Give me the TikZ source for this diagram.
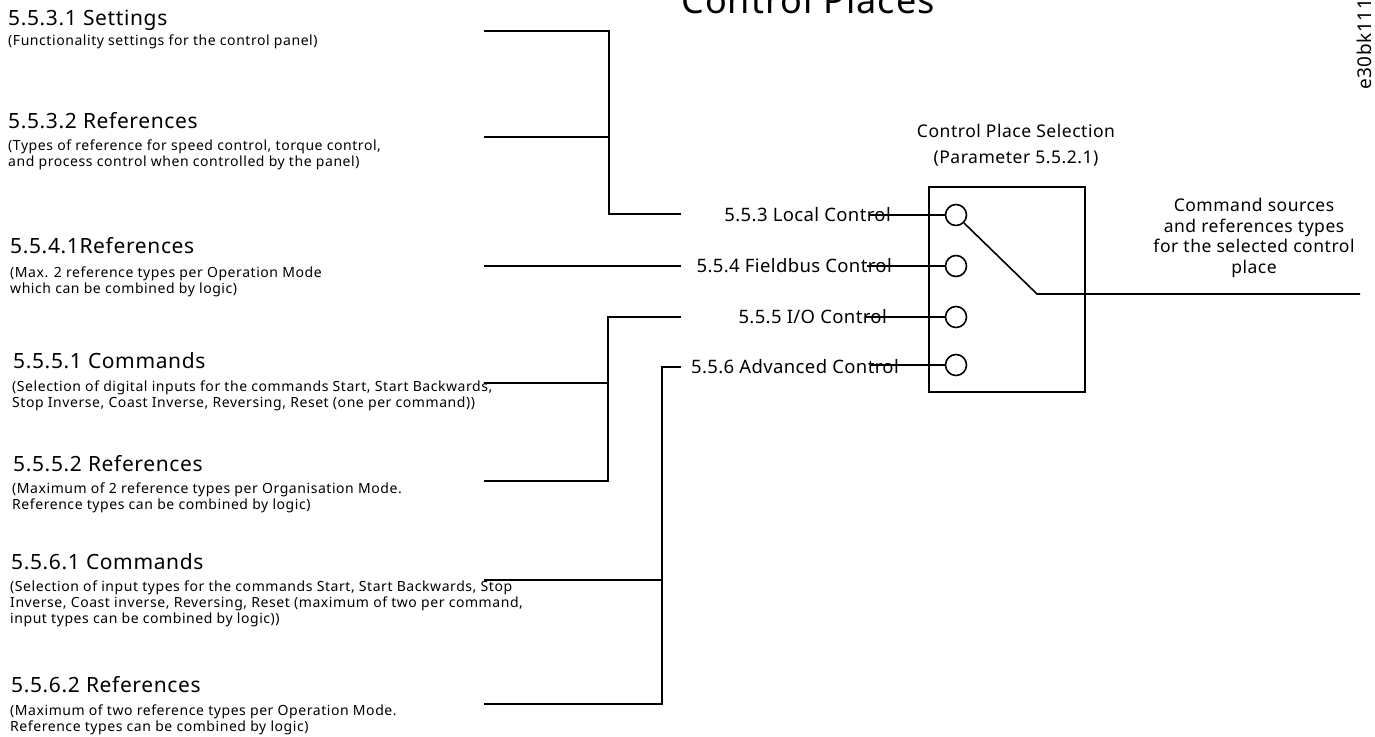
\documentclass[tikz,border=0pt]{standalone}
\usepackage{fontspec}
\setmainfont{Noto Sans}
\newfontfamily\fhead[LetterSpace=3]{Noto Sans}
\newfontfamily\fsub[LetterSpace=4]{Noto Sans}
\newfontfamily\fmid[LetterSpace=2]{Noto Sans}
\newfontfamily\fside[LetterSpace=3]{Noto Sans}
\newfontfamily\ftitle[LetterSpace=3]{Noto Sans}
\begin{document}
\begin{tikzpicture}[x=1pt,y=-1pt,
  wire/.style={line width=1.6pt},
  head/.style={anchor=base west,inner sep=0pt,font=\fhead\fontsize{21}{24}\selectfont},
  sub/.style={anchor=base west,inner sep=0pt,align=left,font=\fsub\fontsize{14}{16}\selectfont},
  place/.style={anchor=base east,inner sep=0pt,font=\fmid\fontsize{18.5}{22}\selectfont},
  port/.style={circle,draw,line width=1.6pt,minimum size=21pt,inner sep=0pt},
  side/.style={inner sep=0pt,align=center,font=\fside\fontsize{17.5}{20.5}\selectfont}]
\useasboundingbox (0,0) rectangle (1375,736);
% title and code
\node[anchor=base,inner sep=0pt,font=\ftitle\fontsize{36}{40}\selectfont] (title) at (808,13) {Control Places};
\node[anchor=base west,rotate=90,inner sep=0pt,font=\fhead\fontsize{19}{20}\selectfont] (code) at (1371,90) {e30bk111};
% left column (base anchor = last line)
\node[head] (h1) at (8,25) {5.5.3.1 Settings};
\node[sub] (s1) at (8,45) {(Functionality settings for the control panel)};
\node[head] (h2) at (8,128) {5.5.3.2 References};
\node[sub] (s2) at (8,166) {(Types of reference for speed control, torque control,\\and process control when controlled by the panel)};
\node[head] (h3) at (10,253) {5.5.4.1References};
\node[sub] (s3) at (10,293) {(Max. 2 reference types per Operation Mode\\which can be combined by logic)};
\node[head] (h4) at (13,368) {5.5.5.1 Commands};
\node[sub] (s4) at (12,407) {(Selection of digital inputs for the commands Start, Start Backwards,\\Stop Inverse, Coast Inverse, Reversing, Reset (one per command))};
\node[head] (h5) at (13,471) {5.5.5.2 References};
\node[sub] (s5) at (12,509) {(Maximum of 2 reference types per Organisation Mode.\\Reference types can be combined by logic)};
\node[head] (h6) at (11,569) {5.5.6.1 Commands};
\node[sub] (s6) at (10,623) {(Selection of input types for the commands Start, Start Backwards, Stop\\Inverse, Coast inverse, Reversing, Reset (maximum of two per command,\\input types can be combined by logic))};
\node[head] (h7) at (11,692) {5.5.6.2 References};
\node[sub] (s7) at (10,731) {(Maximum of two reference types per Operation Mode.\\Reference types can be combined by logic)};
% control places
\node[place] (p1) at (891,221) {5.5.3 Local Control};
\node[place] (p2) at (892,272) {5.5.4 Fieldbus Control};
\node[place] (p3) at (887,323) {5.5.5 I/O Control};
\node[place] (p4) at (899,373) {5.5.6 Advanced Control};
% selector box
\node[draw,line width=1.6pt,minimum width=156pt,minimum height=205pt,inner sep=0pt] (box) at (1007,289.5) {};
\node[port] (c1) at (956,215) {};
\node[port] (c2) at (956,266) {};
\node[port] (c3) at (956,317) {};
\node[port] (c4) at (956,365) {};
\node[side,anchor=base,font=\fside\fontsize{17.5}{25.5}\selectfont] (sel) at (1016,163) {Control Place Selection\\(Parameter 5.5.2.1)};
\node[side,anchor=base] (out) at (1254,273) {Command sources\\and references types\\for the selected control\\place};
% coordinates
\coordinate (a1) at (484,31);
\coordinate (a2) at (484,137);
\coordinate (a3) at (484,266);
\coordinate (a4) at (484,383);
\coordinate (a5) at (484,481);
\coordinate (a6) at (484,580);
\coordinate (a7) at (484,704);
\coordinate (j1) at (609,214);
\coordinate (j3) at (608,317);
\coordinate (j4) at (662,367);
\coordinate (e1) at (681,214);
\coordinate (e2) at (681,266);
\coordinate (e3) at (681,317);
\coordinate (e4) at (681,367);
\coordinate (t1) at (870,215);
\coordinate (t2) at (867,266);
\coordinate (t3) at (865,317);
\coordinate (t4) at (870,365);
\coordinate (sw) at (1037,294);
\coordinate (o) at (1360,294);
% wires
\draw[wire] (a1) -| (j1) -- (e1);
\draw[wire] (a2) -- (a2 -| j1);
\draw[wire] (a3) -- (e2);
\draw[wire] (e3) -- (j3) |- (a5);
\draw[wire] (a4) -- (a4 -| j3);
\draw[wire] (e4) -- (j4) |- (a7);
\draw[wire] (a6) -- (a6 -| j4);
\draw[wire] (t1) -- (c1.west);
\draw[wire] (t2) -- (c2.west);
\draw[wire] (t3) -- (c3.west);
\draw[wire] (t4) -- (c4.west);
\draw[wire] (c1.-45) -- (sw) -- (o);
\end{tikzpicture}
\end{document}
